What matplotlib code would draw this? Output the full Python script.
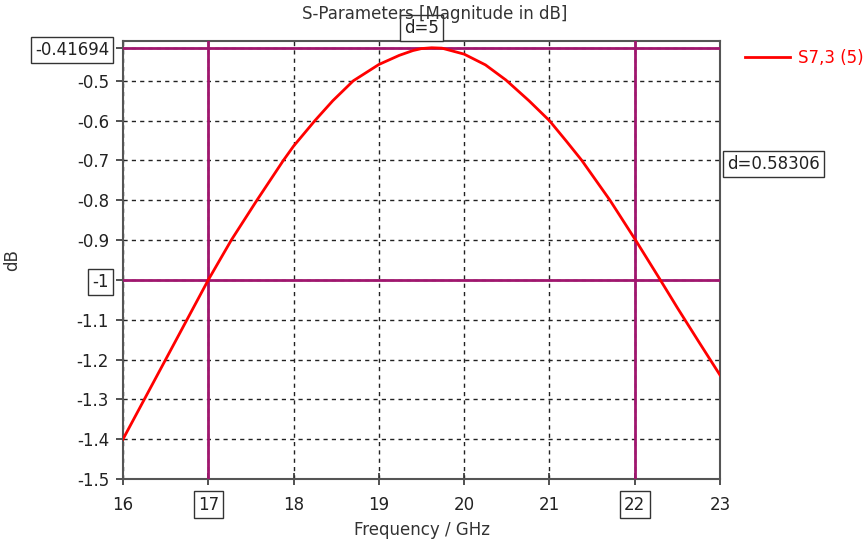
import numpy as np
import matplotlib.pyplot as plt

# S7,3 magnitude (dB)
freq_ghz = [16.0, 16.25, 16.5, 16.75, 17.0, 17.27, 17.57, 17.88, 18.0, 18.25, 18.46,
            18.70, 19.0, 19.24, 19.40, 19.50, 19.62, 19.74, 20.0, 20.25, 20.49, 20.76,
            21.0, 21.2, 21.38, 21.71, 22.01, 22.30, 22.5, 22.75, 23.0]
s73_db = [-1.400, -1.300, -1.200, -1.100, -1.000, -0.900, -0.800, -0.700, -0.664, -0.600, -0.550,
          -0.500, -0.459, -0.436, -0.424, -0.419, -0.417, -0.418, -0.433, -0.460, -0.498, -0.550,
          -0.600, -0.652, -0.700, -0.800, -0.900, -1.000, -1.070, -1.155, -1.239]

# marker lines
marker_x = [17, 22]
marker_y = [-1.0, -0.41694]
delta_x_label = "d=5"
delta_y_label = "d=0.58306"

xticks = [16, 17, 18, 19, 20, 21, 22, 23]
xtick_labels = ["16", "17", "18", "19", "20", "21", "22", "23"]
yticks = [-1.5, -1.4, -1.3, -1.2, -1.1, -1.0, -0.9, -0.8, -0.7, -0.6, -0.5, -0.41694]
ytick_labels = ["-1.5", "-1.4", "-1.3", "-1.2", "-1.1", "-1", "-0.9", "-0.8",
                "-0.7", "-0.6", "-0.5", "-0.41694"]
boxed_x = ["17", "22"]
boxed_y = ["-1", "-0.41694"]

plt.rcParams['font.family'] = ['DejaVu Sans']
mag = '#A0166E'
txt = '#333333'
fs = 12

fig = plt.figure(figsize=(8.66, 5.42), dpi=100)
ax = fig.add_axes([123 / 866, 1 - 479 / 542, 597 / 866, 438 / 542])

ax.plot(freq_ghz, s73_db, color='red', lw=2, label='S7,3 (5)', zorder=4)

for xv in marker_x:
    ax.axvline(xv, color=mag, lw=2, zorder=3)
for yv in marker_y:
    ax.axhline(yv, color=mag, lw=2, zorder=3)

ax.set_xlim(16, 23)
ax.set_ylim(-1.5, -0.4)
ax.set_xticks(xticks)
ax.set_xticklabels(xtick_labels)
ax.set_yticks(yticks)
ax.set_yticklabels(ytick_labels)
ax.grid(True, color='#222222', linestyle=(0, (3, 3)), lw=1)
ax.set_axisbelow(True)

for s in ax.spines.values():
    s.set_color('#555555')
    s.set_linewidth(1.5)

ax.tick_params(axis='x', direction='inout', length=8, width=1.2, color='#333333',
               labelsize=fs, labelcolor='#222222', pad=8)
ax.tick_params(axis='y', direction='out', length=5, width=1.2, color='#333333',
               labelsize=fs, labelcolor='#222222', pad=5)

box = dict(boxstyle='square,pad=0.25', fc='white', ec='#333333', lw=1)
for lab in ax.get_xticklabels():
    if lab.get_text() in boxed_x:
        lab.set_bbox(box)
for lab in ax.get_yticklabels():
    if lab.get_text() in boxed_y:
        lab.set_bbox(box)

# delta boxes
ax.text(np.mean(marker_x), 1.03, delta_x_label, transform=ax.get_xaxis_transform(),
        ha='center', va='center', fontsize=fs, color='#222222', bbox=box, zorder=6,
        clip_on=False)
ax.text(1.012, np.mean(marker_y), delta_y_label, transform=ax.get_yaxis_transform(),
        ha='left', va='center', fontsize=fs, color='#222222', bbox=box, clip_on=False)

fig.text(435 / 866, 1 - 14 / 542, 'S-Parameters [Magnitude in dB]', ha='center',
         va='center', fontsize=fs, color=txt, zorder=5)
ax.set_xlabel('Frequency / GHz', fontsize=fs, color=txt, va='center')
ax.xaxis.set_label_coords(0.5, -0.116)
ax.set_ylabel('dB', fontsize=fs, color=txt, va='center')
ax.yaxis.set_label_coords(-0.186, 0.5)

ax.legend(loc='center left', bbox_to_anchor=(1.042, 0.961), frameon=False,
          handlelength=2.7, handletextpad=0.45, borderpad=0, borderaxespad=0,
          labelcolor='red', fontsize=fs)

fig.savefig('out.png', dpi=100)
